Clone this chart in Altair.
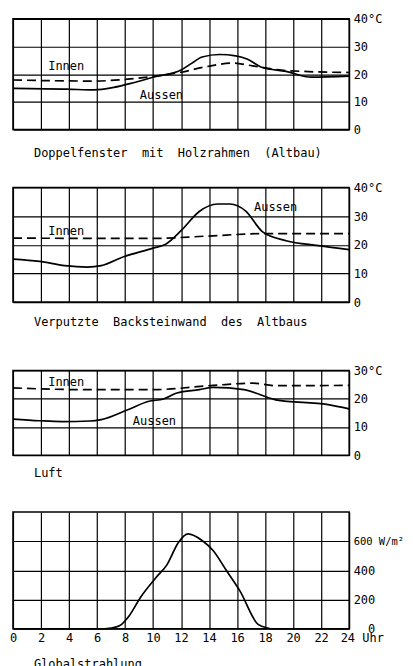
import altair as alt
import pandas as pd

FONT = "DejaVu Sans Mono"

hours_grid = list(range(0, 25, 2))

# Panel 1: Doppelfenster mit Holzrahmen (Altbau)
p1_aussen_h = [0, 3.9, 5.8, 7.2, 8.6, 10, 12, 12.75, 13.5, 14.75, 15.9, 16.75, 17.8, 19.5, 21.3, 24]
p1_aussen_t = [14.9, 14.6, 14.3, 15.2, 16.9, 18.9, 21.5, 23.9, 26.2, 27.1, 26.6, 25.4, 22.4, 21.0, 18.9, 19.3]
p1_innen_h = [0, 5.8, 7.7, 10, 12, 13.8, 15.7, 17.1, 19.5, 24]
p1_innen_t = [17.9, 17.5, 18.0, 19.2, 20.7, 22.7, 24.0, 23.0, 21.3, 20.6]

# Panel 2: Verputzte Backsteinwand des Altbaus
p2_aussen_h = [0, 1.9, 3.7, 5.3, 6.3, 7.9, 10, 10.9, 12, 13.3, 14.6, 15.5, 16.6, 17.8, 19.5, 21.8, 24]
p2_aussen_t = [15.0, 14.2, 12.7, 12.2, 12.7, 15.8, 18.8, 20.2, 24.9, 31.6, 34.2, 34.2, 31.8, 24.6, 21.4, 19.7, 18.3]
p2_innen_h = [0, 10, 13.8, 18, 24]
p2_innen_t = [22.3, 22.2, 23.0, 23.9, 23.9]

# Panel 3: Luft
p3_aussen_h = [0, 1.9, 3.5, 5.5, 6.3, 8.2, 9.7, 10.75, 11.7, 13.3, 14.3, 16.5, 18.75, 22.5, 24]
p3_aussen_t = [12.8, 12.2, 11.9, 12.1, 12.6, 16.1, 19.1, 19.9, 22.0, 23.2, 24.0, 23.2, 19.6, 17.9, 16.4]
p3_innen_h = [0, 5.1, 10, 14.3, 17.1, 18.75, 24]
p3_innen_t = [23.8, 23.2, 23.2, 24.7, 25.5, 24.6, 24.7]

# Panel 4: Globalstrahlung
p4_h = [0, 6.5, 7, 7.6, 8.3, 9.1, 10.2, 11, 11.8, 12.5, 13.5, 14.3, 15.2, 16.2, 17.5, 18.2, 18.5, 24]
p4_w = [0, 0, 5, 20, 90, 215, 350, 440, 590, 650, 605, 535, 405, 260, 30, 5, 0, 0]

# Series labels inside the panels
p1_lab = ["Innen", "Aussen"]; p1_lab_h = [3.8, 10.6]; p1_lab_t = [22.8, 12.5]
p2_lab = ["Innen", "Aussen"]; p2_lab_h = [3.8, 18.75]; p2_lab_t = [24.9, 33.0]
p3_lab = ["Innen", "Aussen"]; p3_lab_h = [3.8, 10.1]; p3_lab_t = [25.9, 12.2]

captions = [
    "Doppelfenster\u00a0\u00a0mit\u00a0\u00a0Holzrahmen\u00a0\u00a0(Altbau)",
    "Verputzte\u00a0\u00a0Backsteinwand\u00a0\u00a0des\u00a0\u00a0Altbaus",
    "Luft",
    "Globalstrahlung",
]

W = 337
LP = 4


def x_enc(show_labels):
    if show_labels:
        ax = alt.Axis(values=hours_grid, grid=True, gridColor="black", gridOpacity=1, gridWidth=1.2,
                      domain=False, ticks=False, title=None,
                      labelFont=FONT, labelFontSize=12, labelColor="black", labelPadding=4,
                      labelExpr="datum.value == 24 ? '24 Uhr' : datum.label",
                      labelAlign={"condition": {"test": "datum.value == 24", "value": "left"}, "value": "center"},
                      labelOffset={"condition": {"test": "datum.value == 24", "value": -9}, "value": 0})
    else:
        ax = alt.Axis(values=hours_grid, grid=True, gridColor="black", gridOpacity=1, gridWidth=1.2,
                      domain=False, ticks=False, labels=False, title=None)
    return alt.X("h:Q", scale=alt.Scale(domain=[0, 24], nice=False), axis=ax)


def y_enc(ymax, values, expr, zero_right=False):
    kw = dict(orient="right", values=values, grid=True, gridColor="black", gridOpacity=1, gridWidth=1.2,
              domain=False, ticks=False, title=None, labelFont=FONT, labelFontSize=12,
              labelColor="black", labelExpr=expr, labelPadding=LP)
    if zero_right:
        kw["labelAlign"] = {"condition": {"test": "datum.value == 0", "value": "right"}, "value": "left"}
        kw["labelPadding"] = {"condition": {"test": "datum.value == 0", "value": LP + 21.6}, "value": LP}
        kw["labelFontSize"] = {"condition": {"test": "datum.value == 600", "value": 10.5}, "value": 12}
    return alt.Y("v:Q", scale=alt.Scale(domain=[0, ymax], nice=False), axis=alt.Axis(**kw))


def title(text, offset):
    return alt.TitleParams(text, orient="bottom", anchor="start", frame="group", font=FONT, fontSize=12,
                           fontWeight="normal", color="black", offset=offset, dx=21)


def temp_panel(ah, at, ih, it, lab, lh, lt, ymax, height, caption, offset):
    ya = y_enc(ymax, list(range(0, ymax + 1, 10)),
               f"datum.value == {ymax} ? '{ymax}°C' : datum.label")
    xa = x_enc(False)
    d_a = pd.DataFrame({"h": ah, "v": at})
    d_i = pd.DataFrame({"h": ih, "v": it})
    d_l = pd.DataFrame({"h": lh, "v": lt, "label": lab})
    aus = alt.Chart(d_a).mark_line(color="black", strokeWidth=1.7, interpolate="monotone").encode(x=xa, y=ya)
    inn = alt.Chart(d_i).mark_line(color="black", strokeWidth=1.7, strokeDash=[9, 5],
                                   interpolate="monotone").encode(x=xa, y=ya)
    txt = alt.Chart(d_l).mark_text(font=FONT, fontSize=12, color="black", align="center",
                                   baseline="middle").encode(x=xa, y=ya, text="label:N")
    return alt.layer(aus, inn, txt).properties(width=W, height=height, title=title(caption, offset))


p1 = temp_panel(p1_aussen_h, p1_aussen_t, p1_innen_h, p1_innen_t, p1_lab, p1_lab_h, p1_lab_t,
                40, 111, captions[0], 13)
p2 = temp_panel(p2_aussen_h, p2_aussen_t, p2_innen_h, p2_innen_t, p2_lab, p2_lab_h, p2_lab_t,
                40, 115, captions[1], 8.5)
p3 = temp_panel(p3_aussen_h, p3_aussen_t, p3_innen_h, p3_innen_t, p3_lab, p3_lab_h, p3_lab_t,
                30, 85, captions[2], 7)

d4 = pd.DataFrame({"h": p4_h, "v": p4_w})
p4 = alt.Chart(d4).mark_line(color="black", strokeWidth=1.7, interpolate="monotone").encode(
    x=x_enc(True),
    y=y_enc(800, [0, 200, 400, 600], "datum.value == 600 ? '600 W/m²' : datum.label", zero_right=True),
).properties(width=W, height=117, title=title(captions[3], 15))

chart = alt.vconcat(
    alt.vconcat(p1, p2, spacing=20),
    alt.vconcat(p3, p4, spacing=31),
    spacing=34.5,
).properties(
    padding={"left": 0, "top": 3, "right": 0, "bottom": 0},
    background="white",
).configure_view(stroke="black", strokeWidth=1.5)

chart.save("out.html", embed_options={"renderer": "svg", "actions": False})
